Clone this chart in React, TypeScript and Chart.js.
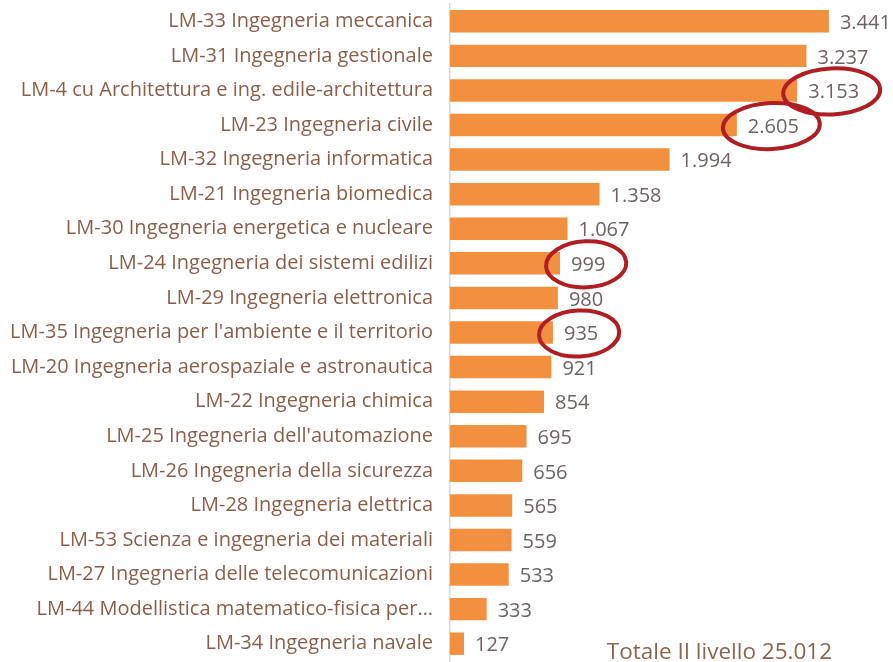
import React, { useEffect, useRef } from "react";
import { Chart, registerables } from "chart.js";

Chart.register(...registerables);

const categories: string[] = [
  "LM-33 Ingegneria meccanica",
  "LM-31 Ingegneria gestionale",
  "LM-4 cu Architettura e ing. edile-architettura",
  "LM-23 Ingegneria civile",
  "LM-32 Ingegneria informatica",
  "LM-21 Ingegneria biomedica",
  "LM-30 Ingegneria energetica e nucleare",
  "LM-24 Ingegneria dei sistemi edilizi",
  "LM-29 Ingegneria elettronica",
  "LM-35 Ingegneria per l'ambiente e il territorio",
  "LM-20 Ingegneria aerospaziale e astronautica",
  "LM-22 Ingegneria chimica",
  "LM-25 Ingegneria dell'automazione",
  "LM-26 Ingegneria della sicurezza",
  "LM-28 Ingegneria elettrica",
  "LM-53 Scienza e ingegneria dei materiali",
  "LM-27 Ingegneria delle telecomunicazioni",
  "LM-44 Modellistica matematico-fisica per…",
  "LM-34 Ingegneria navale",
];

const values: number[] = [3441, 3237, 3153, 2605, 1994, 1358, 1067, 999, 980, 935, 921, 854, 695, 656, 565, 559, 533, 333, 127];

// indices of values whose labels are circled in red
const circled: number[] = [2, 3, 7, 9];

const totalText = "Totale II livello 25.012";

const fmt = (v: number) => v.toLocaleString("de-DE");

const FONT = "'Open Sans', sans-serif";

const valueLabels = {
  id: "valueLabels",
  afterDatasetsDraw(chart: any) {
    const ctx = chart.ctx;
    const meta = chart.getDatasetMeta(0);
    const xs = chart.scales.x;
    ctx.save();
    ctx.font = `20px ${FONT}`;
    ctx.fillStyle = "#6f6262";
    ctx.textBaseline = "middle";
    ctx.textAlign = "left";
    const boxes: any[] = [];
    meta.data.forEach((bar: any, i: number) => {
      const txt = fmt(values[i]);
      const x = xs.getPixelForValue(values[i]) + 11;
      const y = bar.y + 2;
      ctx.fillText(txt, x, y);
      const w = ctx.measureText(txt).width;
      boxes.push({ x, y, w });
    });
    // red ellipses around chosen labels
    ctx.strokeStyle = "#b01e24";
    ctx.lineWidth = 4;
    circled.forEach((i) => {
      const b = boxes[i];
      const cx = b.x + b.w / 2 - 2;
      const rx = Math.max(b.w / 2 + 23, 37);
      ctx.beginPath();
      ctx.ellipse(cx, b.y - 1, rx, 23, -0.05, 0, Math.PI * 2);
      ctx.stroke();
    });
    // total text
    ctx.font = `22.5px ${FONT}`;
    ctx.fillStyle = "#8a6650";
    ctx.textAlign = "right";
    ctx.textBaseline = "alphabetic";
    ctx.fillText(totalText, 832, 659);
    ctx.restore();
  },
};

export default function App() {
  const ref = useRef<HTMLCanvasElement | null>(null);
  useEffect(() => {
    if (!ref.current) return;
    const chart = new Chart(ref.current, {
      type: "bar",
      data: {
        labels: categories,
        datasets: [
          {
            data: values,
            backgroundColor: "#f39040",
            borderWidth: 0,
            barPercentage: 0.65,
            categoryPercentage: 1,
          },
        ],
      },
      options: {
        indexAxis: "y",
        animation: false,
        responsive: false,
        maintainAspectRatio: false,
        layout: { padding: { top: 4, bottom: 1, left: 0, right: 0 } },
        plugins: { legend: { display: false }, tooltip: { enabled: false } },
        scales: {
          x: { display: false, min: 0, max: 4023 },
          y: {
            afterFit(scale: any) {
              scale.width = 450;
              scale.paddingTop = 0;
              scale.paddingBottom = 0;
            },
            grid: { display: false, drawTicks: false },
            border: { display: true, color: "#d9d9d9", width: 1.5 },
            ticks: {
              padding: 17,
              color: "#8b5e4a",
              font: { family: FONT, size: 20 },
              autoSkip: false,
            },
          },
        },
      },
      plugins: [valueLabels],
    });
    return () => chart.destroy();
  }, []);
  return (
    <div style={{ position: "absolute", left: 0, top: 0, width: 893, height: 662, background: "#fff" }}>
      <canvas ref={ref} width={893} height={662} />
    </div>
  );
}
